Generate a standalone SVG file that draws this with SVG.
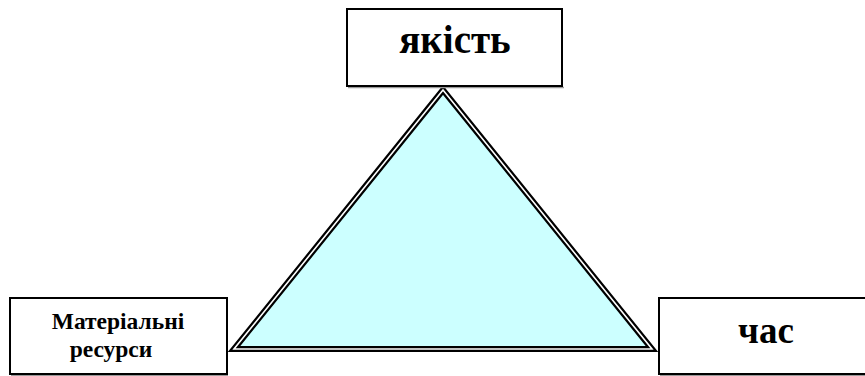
<svg xmlns="http://www.w3.org/2000/svg" width="865" height="376" viewBox="0 0 865 376">
<style>
.box{fill:#fff;stroke:#000;stroke-width:2}
.shadow{stroke:#9a9a9a;stroke-width:1.5}
.t{font-family:"Liberation Serif","Times New Roman",serif;font-weight:bold;fill:#000;text-anchor:middle}
</style>
<rect width="865" height="376" fill="#fff"/>
<g id="connectors">
<polygon points="443,90 234,349 652,349" fill="#ccffff" stroke="#000" stroke-width="6" stroke-linejoin="miter"/>
<polygon points="443,90 234,349 652,349" fill="none" stroke="#fff" stroke-width="1.6" stroke-linejoin="miter"/>
</g>
<g id="node-quality">
<line class="shadow" x1="348" y1="87.5" x2="564" y2="87.5"/>
<rect class="box" x="347" y="9" width="215" height="77"/>
<text class="t" x="455" y="53" font-size="39">якість</text>
</g>
<g id="node-resources">
<line class="shadow" x1="11" y1="375.5" x2="228" y2="375.5"/>
<rect class="box" x="10" y="298" width="217" height="76"/>
<text class="t" x="118" y="329" font-size="23.5">Матеріальні</text>
<text class="t" x="111" y="357" font-size="23.5">ресурси</text>
</g>
<g id="node-time">
<line class="shadow" x1="660" y1="375.5" x2="865" y2="375.5"/>
<rect class="box" x="659" y="298" width="216" height="76"/>
<text class="t" x="766" y="343" font-size="37">час</text>
</g>
</svg>
